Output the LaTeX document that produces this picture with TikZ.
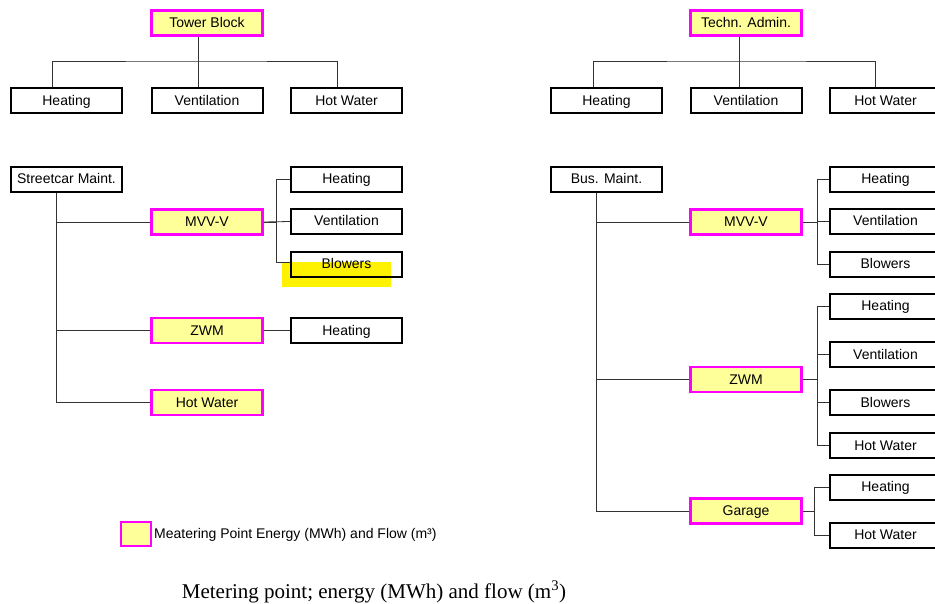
\documentclass[tikz,border=0pt]{standalone}
\usepackage{fontspec}
\setmainfont{Liberation Serif}
\setsansfont{Liberation Sans}
\usepackage{xcolor}
\usetikzlibrary{positioning}
\definecolor{meterfill}{HTML}{FFFF99}
\definecolor{meterline}{HTML}{FF00FF}

\begin{document}
\begin{tikzpicture}[x=1pt,y=-1pt,
  unit/.style={draw=black, line width=2pt, fill=white, font=\sffamily\fontsize{14}{16}\selectfont, minimum width=111pt, minimum height=25pt, inner sep=0pt, text height=10pt, text depth=1pt},
  meter/.style={unit, draw=meterline, line width=2.6pt, fill=meterfill},
  link/.style={black!80, line width=0.8pt}]
  \useasboundingbox (0,0) rectangle (935,604);
  % tower block
  \node[meter] (TB)  at (207,23)    {Tower Block};
  \node[unit]  (TBH) at (66.5,101)  {Heating};
  \node[unit]  (TBV) at (207,101)   {Ventilation};
  \node[unit]  (TBW) at (346.5,101) {Hot Water};
  \draw[link] ([xshift=-9pt]TB.south) -- ([xshift=-9pt]TBV.north);
  \draw[link] ([xshift=-14pt]TBH.north) |- (198,61) -| ([xshift=-9pt]TBW.north);
  % techn. admin.
  \node[meter] (TA)  at (746,23)    {Techn. Admin.};
  \node[unit]  (TAH) at (606.5,101) {Heating};
  \node[unit]  (TAV) at (746,101)   {Ventilation};
  \node[unit]  (TAW) at (885.5,101) {Hot Water};
  \draw[link] ([xshift=-7pt]TA.south) -- ([xshift=-7pt]TAV.north);
  \draw[link] ([xshift=-13pt]TAH.north) |- (739,61) -| ([xshift=-10pt]TAW.north);
  % streetcar maint.
  \node[fill=yellow, minimum width=109pt, minimum height=25pt, inner sep=0pt] (hl) at (336.5,274.5) {};
  \node[unit] (SM)   at (66.5,179.5)  {Streetcar Maint.};
  \node[meter] (SMM) at (207,222)     {MVV-V};
  \node[unit] (SMMH) at (346.5,179.5) {Heating};
  \node[unit] (SMMV) at (346.5,221.5) {Ventilation};
  \node[unit, fill=none] (SMMB) at (346.5,264.5) {Blowers};
  \node[meter] (SMZ) at (207,330.5)   {ZWM};
  \node[unit] (SMZH) at (346.5,330.5) {Heating};
  \node[meter] (SMW) at (207,402.5)   {Hot Water};
  \draw[link] ([xshift=-10pt]SM.south) |- (SMM.west);
  \draw[link] ([xshift=-10pt]SM.south) |- (SMZ.west);
  \draw[link] ([xshift=-10pt]SM.south) |- (SMW.west);
  \draw[link] (SMM.east) -- ++(13,0) |- (SMMH.west);
  \draw[link] (SMM.east) -- (SMMV.west);
  \draw[link] (SMM.east) -- ++(13,0) |- ([yshift=2.5pt]SMMB.west);
  \draw[link] (SMZ.east) -- (SMZH.west);
  % bus maint.
  \node[unit] (BM)   at (606.5,179.5) {Bus. Maint.};
  \node[meter] (BMM) at (746,222)     {MVV-V};
  \node[unit] (BMMH) at (885.5,179.5) {Heating};
  \node[unit] (BMMV) at (885.5,221.5) {Ventilation};
  \node[unit] (BMMB) at (885.5,264.5) {Blowers};
  \node[meter] (BMZ) at (746,379.5)   {ZWM};
  \node[unit] (BMZH) at (885.5,306.5) {Heating};
  \node[unit] (BMZV) at (885.5,354.5) {Ventilation};
  \node[unit] (BMZB) at (885.5,402.5) {Blowers};
  \node[unit] (BMZW) at (885.5,445.5) {Hot Water};
  \node[meter] (BMG) at (746,511)     {Garage};
  \node[unit] (BMGH) at (885.5,487)   {Heating};
  \node[unit] (BMGW) at (885.5,535)   {Hot Water};
  \draw[link] ([xshift=-10pt]BM.south) |- (BMM.west);
  \draw[link] ([xshift=-10pt]BM.south) |- (BMZ.west);
  \draw[link] ([xshift=-10pt]BM.south) |- (BMG.west);
  \foreach \c in {BMMH,BMMV,BMMB}
    \draw[link] (BMM.east) -- ++(15,0) |- (\c.west);
  \foreach \c in {BMZH,BMZV,BMZB,BMZW}
    \draw[link] (BMZ.east) -- ++(15,0) |- (\c.west);
  \foreach \c in {BMGH,BMGW}
    \draw[link] (BMG.east) -- ++(12,0) |- (\c.west);
  % legend
  \node[meter, minimum width=30pt, minimum height=24pt] (key) at (136,534) {};
  \node[font=\sffamily\fontsize{14}{16}\selectfont, anchor=west, inner sep=0pt] (keytxt) at (154,535) {Meatering Point Energy (MWh) and Flow (m³)};
  \node[font=\fontsize{21}{24}\selectfont, inner sep=0pt] (caption) at (374,592) {Metering point; energy (MWh) and flow (m\textsuperscript{3})};
\end{tikzpicture}
\end{document}
